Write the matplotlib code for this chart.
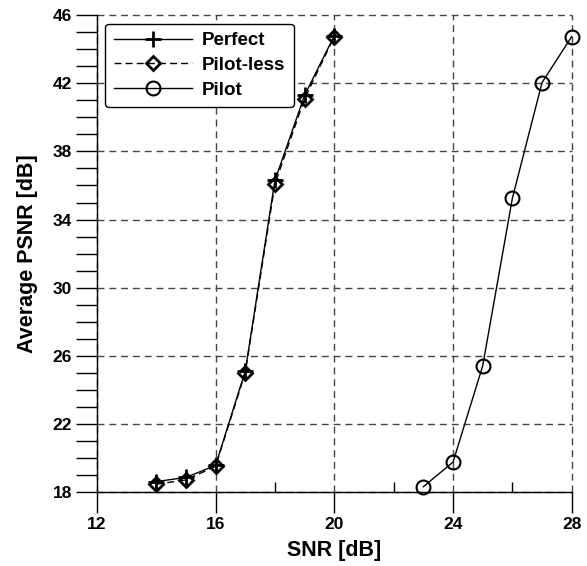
import matplotlib
matplotlib.use("Agg")
import matplotlib.pyplot as plt

plt.rcParams['font.family'] = ['Liberation Sans', 'DejaVu Sans']
plt.rcParams['font.weight'] = 'bold'

# SNR values
snr_a = [14, 15, 16, 17, 18, 19, 20]
snr_pilot = [23, 24, 25, 26, 27, 28]

# Average PSNR values
psnr_perfect = [18.6, 18.85, 19.55, 25.1, 36.3, 41.3, 44.8]
psnr_pilotless = [18.45, 18.7, 19.5, 25.0, 36.1, 41.1, 44.75]
psnr_pilot = [18.3, 19.75, 25.4, 35.25, 42.05, 44.75]

x_ticks = [12, 16, 20, 24, 28]
y_ticks = [18, 22, 26, 30, 34, 38, 42, 46]

fig = plt.figure(figsize=(5.87, 5.66), dpi=100)
ax = fig.add_axes([0.165, 0.131, 0.809, 0.842])

ax.plot(snr_a, psnr_perfect, color='black', lw=1.0, marker='+', ms=11,
        mew=2.0, label='Perfect', zorder=3, clip_on=False)
ax.plot(snr_a, psnr_pilotless, color='black', lw=1.0, ls=(0, (5, 3)),
        marker='D', ms=7, mew=2.0, mfc='none', label='Pilot-less', zorder=3,
        clip_on=False)
ax.plot(snr_pilot, psnr_pilot, color='black', lw=1.0, marker='o', ms=10,
        mew=1.5, mfc='none', label='Pilot', zorder=3, clip_on=False)

ax.set_xlim(12, 28)
ax.set_ylim(18, 46)
ax.set_xticks(x_ticks)
ax.set_xticks(range(14, 28, 4), minor=True)
ax.set_yticks(y_ticks)
ax.set_yticks([v for v in range(18, 47) if v not in y_ticks], minor=True)

ax.grid(True, which='major', ls=(0, (5, 3.5)), color='#444444', lw=1.0)
ax.spines['top'].set_visible(False)
ax.spines['right'].set_visible(False)
ax.spines['left'].set_linewidth(1.0)
ax.spines['bottom'].set_linewidth(1.0)
for gl in ax.get_xgridlines() + ax.get_ygridlines():
    gl.set_clip_on(False)

ax.tick_params(axis='x', which='major', direction='out', length=15, width=1,
               labelsize=12.5, pad=3)
ax.tick_params(axis='x', which='minor', direction='in', length=7, width=1)
ax.tick_params(axis='y', which='major', direction='out', length=15, width=1,
               labelsize=12.5, pad=3)
ax.tick_params(axis='y', which='minor', direction='out', length=15, width=1)

ax.set_xlabel('SNR [dB]', fontsize=15.5, fontweight='bold', labelpad=6)
ax.set_ylabel('Average PSNR [dB]', fontsize=15.5, fontweight='bold', labelpad=10)

leg = ax.legend(loc='upper left', fontsize=13.5, frameon=True, fancybox=True,
                edgecolor='black', framealpha=1, handlelength=4.2,
                borderpad=0.45, labelspacing=0.4, handletextpad=0.5,
                borderaxespad=0.45)
leg.get_frame().set_linewidth(1.0)
for t in leg.get_texts():
    t.set_fontweight('bold')

fig.savefig('out.png', dpi=100)
